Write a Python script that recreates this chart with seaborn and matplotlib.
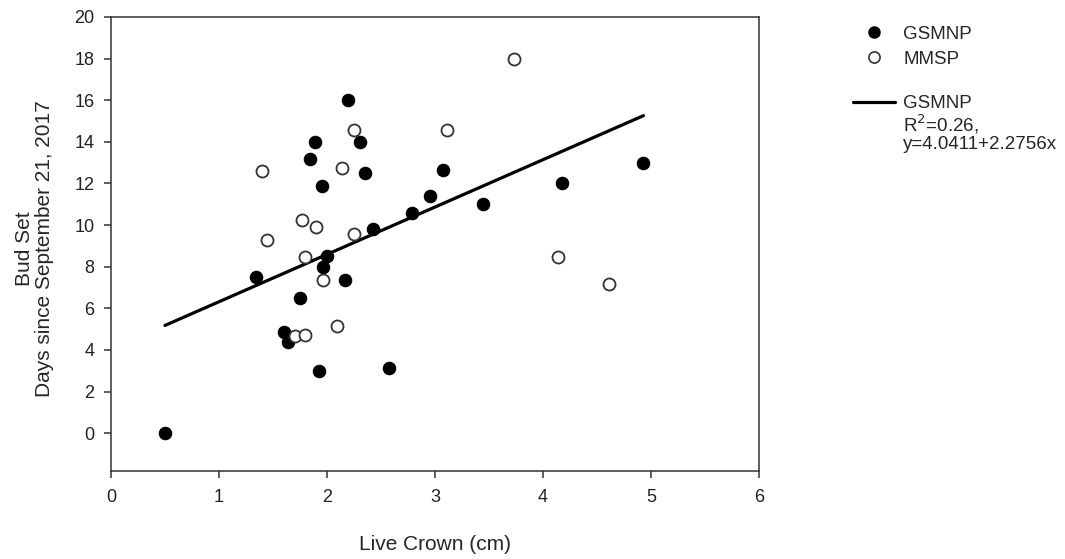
import numpy as np
import pandas as pd
import seaborn as sns
import matplotlib.pyplot as plt
from matplotlib.lines import Line2D

# GSMNP (filled) and MMSP (open) points
gsmnp_x = [0.50, 1.34, 1.75, 1.60, 1.64, 1.93, 2.57, 1.96, 2.00, 2.17, 1.84, 1.89,
           1.95, 2.19, 2.31, 2.35, 2.43, 2.79, 2.95, 3.07, 3.44, 4.18, 4.93]
gsmnp_y = [0.0, 7.5, 6.5, 4.85, 4.37, 3.0, 3.14, 8.0, 8.52, 7.37, 13.18, 14.0,
           11.89, 16.0, 14.0, 12.5, 9.8, 10.6, 11.4, 12.63, 11.0, 12.0, 13.0]
mmsp_x = [1.40, 2.25, 2.14, 3.11, 1.77, 1.895, 2.25, 1.44, 1.80, 1.96, 1.70, 1.80,
          2.09, 3.73, 4.135, 4.61]
mmsp_y = [12.6, 14.57, 12.75, 14.57, 10.24, 9.89, 9.57, 9.29, 8.49, 7.34, 4.65, 4.71,
          5.14, 18.0, 8.49, 7.16]

# fitted line for GSMNP, as printed in the legend
intercept = 4.0411
slope = 2.2756
r2 = 0.26

x_ticks = [0, 1, 2, 3, 4, 5, 6]
y_ticks = [0, 2, 4, 6, 8, 10, 12, 14, 16, 18, 20]

sns.set_style('white')
plt.rcParams['font.family'] = ['Liberation Sans', 'DejaVu Sans']

fig = plt.figure(figsize=(10.65, 5.59), dpi=100)
ax = fig.add_axes([0.1042, 0.158, 0.6085, 0.8116])

# regression line over the range of GSMNP data
fit_x = np.array([min(gsmnp_x), max(gsmnp_x)])
fit = pd.DataFrame({'x': fit_x, 'y': intercept + slope * fit_x})
sns.lineplot(data=fit, x='x', y='y', ax=ax, color='black', linewidth=2.3, zorder=2)

sns.scatterplot(x=gsmnp_x, y=gsmnp_y, ax=ax, color='black', edgecolor='black',
                s=80, linewidth=0.8, zorder=3)
sns.scatterplot(x=mmsp_x, y=mmsp_y, ax=ax, color='white', edgecolor='#333333',
                s=75, linewidth=1.3, zorder=3)

ax.set_xlim(0, 6)
ax.set_ylim(-1.8, 20)
ax.set_xticks(x_ticks)
ax.set_yticks(y_ticks)

ax.set_xlabel('Live Crown (cm)', fontsize=15)
ax.set_ylabel('Bud Set\nDays since September 21, 2017', fontsize=15, linespacing=1.05)
ax.xaxis.set_label_coords(0.5, -0.142)
ax.yaxis.set_label_coords(-0.088, 0.49)

for s in ax.spines.values():
    s.set_linewidth(1.1)
    s.set_color('#333333')

ax.tick_params(axis='both', which='both', direction='out', length=5, width=1.1,
               color='#333333', labelsize=13, labelcolor='#222222',
               bottom=True, left=True, top=False, right=False)
ax.tick_params(axis='x', pad=8)
ax.tick_params(axis='y', pad=7)

# legends: markers, then regression line with its stats
h_pts = [Line2D([], [], marker='o', linestyle='none', markersize=8,
                markerfacecolor='black', markeredgecolor='black'),
         Line2D([], [], marker='o', linestyle='none', markersize=8,
                markerfacecolor='white', markeredgecolor='#333333', markeredgewidth=1.2)]
fig.legend(h_pts, ['GSMNP', 'MMSP'], loc='upper left', bbox_to_anchor=(0.801, 0.954),
           frameon=False, fontsize=13.5, handlelength=2.25, handletextpad=0.42,
           labelspacing=0.42, borderpad=0, borderaxespad=0)

blank = Line2D([], [], linestyle='none')
h_line = [Line2D([], [], color='black', linewidth=2.3), blank, blank]
fig.legend(h_line, ['GSMNP', r'R$^2$=' + f'{r2:.2f},', f'y={intercept}+{slope}x'],
           loc='upper left', bbox_to_anchor=(0.801, 0.83),
           frameon=False, fontsize=13.5, handlelength=2.25, handletextpad=0.42,
           labelspacing=0.0, borderpad=0, borderaxespad=0)

fig.savefig('out.png', dpi=100)
